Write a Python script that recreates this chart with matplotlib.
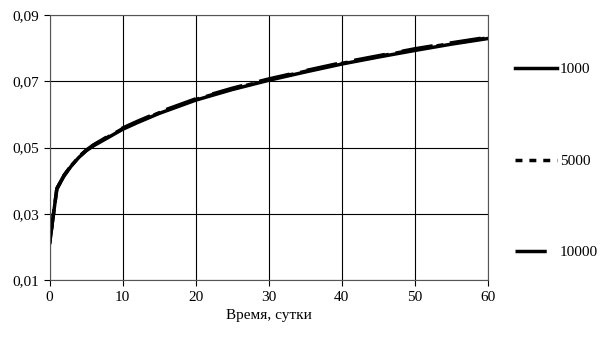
import matplotlib.pyplot as plt
from matplotlib.ticker import FuncFormatter

plt.rcParams['font.family'] = ['Liberation Serif', 'DejaVu Serif']

t = [0, 1, 2, 3, 4, 5, 6, 8, 10, 12, 15, 20, 25, 30, 35, 40, 45, 50, 55, 60]
s1000 = [0.021, 0.0375, 0.0415, 0.0445, 0.047, 0.049, 0.0505, 0.053, 0.0555, 0.0575,
         0.0603, 0.0643, 0.0675, 0.0703, 0.0728, 0.0752, 0.0773, 0.0793, 0.0812, 0.0829]
s5000 = [0.021, 0.0376, 0.0416, 0.0446, 0.0471, 0.0491, 0.0507, 0.0532, 0.0557, 0.0577,
         0.0605, 0.0645, 0.0677, 0.0705, 0.0730, 0.0754, 0.0775, 0.0796, 0.0814, 0.0831]
s10000 = [0.021, 0.0376, 0.0417, 0.0447, 0.0472, 0.0492, 0.0508, 0.0534, 0.0559, 0.0579,
          0.0607, 0.0647, 0.0679, 0.0707, 0.0732, 0.0756, 0.0777, 0.0798, 0.0816, 0.0833]
labels = ["1000", "5000", "10000"]

fig = plt.figure(figsize=(6.04, 3.4), dpi=100)
ax = fig.add_axes([0.082, 0.176, 0.726, 0.78])

ax.plot(t, s1000, color="black", lw=2.5, label=labels[0])
ax.plot(t, s5000, color="black", lw=2.5, dashes=(2, 2), label=labels[1])
ax.plot(t, s10000, color="black", lw=2.5, dashes=(9, 5), label=labels[2])

ax.set_xlim(0, 60)
ax.set_ylim(0.01, 0.09)
ax.set_xticks(range(0, 61, 10))
ax.set_yticks([0.01, 0.03, 0.05, 0.07, 0.09])
ax.yaxis.set_major_formatter(FuncFormatter(lambda v, p: f"{v:.2f}".replace(".", ",")))
ax.grid(True, color="black", lw=0.8)
for sp in ax.spines.values():
    sp.set_color("#555555")
    sp.set_linewidth(0.8)
ax.tick_params(labelsize=11, length=4, width=0.8, direction="out")
ax.set_xlabel("Время, сутки", fontsize=11, labelpad=4)

fig.legend(loc="upper left", bbox_to_anchor=(0.852, 0.816), frameon=False,
           borderpad=0, borderaxespad=0,
           fontsize=11, handlelength=2.75, handletextpad=0.2, labelspacing=5.1)

fig.savefig("out.png", dpi=100)
